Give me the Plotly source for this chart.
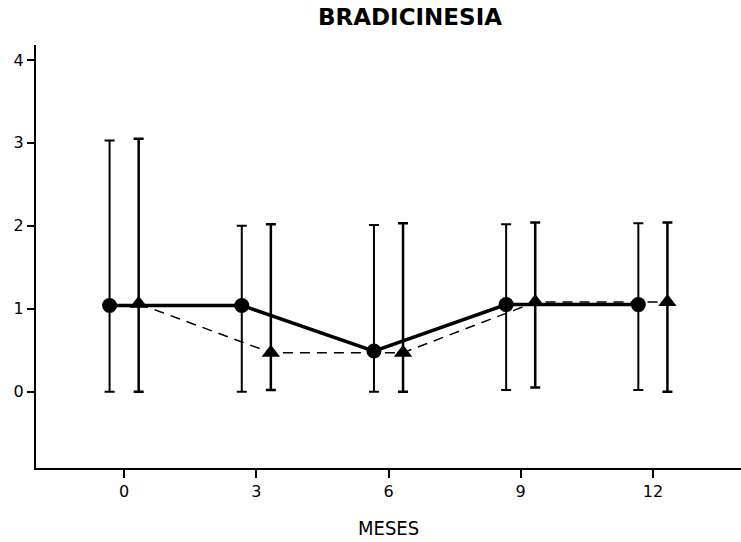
import plotly.graph_objects as go

months = [0, 3, 6, 9, 12]
tick_labels = ["0", "3", "6", "9", "12"]
y_ticks = [0, 1, 2, 3, 4]

circle_mean = [1.04, 1.04, 0.49, 1.05, 1.05]
circle_upper = [3.03, 2.0, 2.01, 2.02, 2.03]
circle_lower = [0.0, 0.0, 0.0, 0.02, 0.02]

tri_mean = [1.06, 0.47, 0.47, 1.08, 1.08]
tri_upper = [3.05, 2.02, 2.03, 2.04, 2.04]
tri_lower = [0.0, 0.02, 0.0, 0.05, 0.0]

OFF = 0.33
xc = [m - OFF for m in months]
xt = [m + OFF for m in months]

W, H = 741, 542
ML, MR, MT, MB = 36, 0, 45, 74

fig = go.Figure()

fig.add_trace(go.Scatter(
    x=xt, y=tri_mean, mode="lines+markers",
    line=dict(color="black", width=1.5, dash="10px,7px"),
    marker=dict(symbol="triangle-up", size=16, color="black"),
    error_y=dict(type="data", symmetric=False,
                 array=[u - m for u, m in zip(tri_upper, tri_mean)],
                 arrayminus=[m - l for m, l in zip(tri_mean, tri_lower)],
                 color="black", thickness=2.5, width=5),
    showlegend=False,
))

fig.add_trace(go.Scatter(
    x=xc, y=circle_mean, mode="lines+markers",
    line=dict(color="black", width=3.5),
    marker=dict(symbol="circle", size=15, color="black"),
    error_y=dict(type="data", symmetric=False,
                 array=[u - m for u, m in zip(circle_upper, circle_mean)],
                 arrayminus=[m - l for m, l in zip(circle_mean, circle_lower)],
                 color="black", thickness=2, width=5),
    showlegend=False,
))

plot_h = H - MT - MB
fig.update_layout(
    width=W, height=H,
    margin=dict(l=ML, r=MR, t=MT, b=MB),
    paper_bgcolor="white", plot_bgcolor="white",
    font=dict(family="DejaVu Sans", color="black", size=16),
    title=dict(text="<b>BRADICINESIA</b>", x=410 / W, xanchor="center",
               y=1 - 17 / H, yanchor="middle", xref="container", yref="container",
               font=dict(family="DejaVu Sans", size=23, color="black")),
    annotations=[dict(text="MESES", x=(388 - ML) / (W - ML - MR), y=(H - MB - 528) / plot_h,
                      xref="paper", yref="paper", xanchor="center", yanchor="middle",
                      showarrow=False,
                      font=dict(family="DejaVu Sans Condensed, DejaVu Sans", size=20, color="black"))],
)

fig.update_xaxes(
    range=[-2, 14], tickvals=months, ticktext=tick_labels,
    showline=True, linecolor="black", linewidth=2,
    ticks="outside", ticklen=8, tickwidth=2, tickcolor="black",
    showgrid=False, zeroline=False,
    tickfont=dict(size=16),
)
fig.update_yaxes(
    range=[-0.92, 4.18], tickvals=y_ticks, ticktext=[str(v) for v in y_ticks],
    showline=True, linecolor="black", linewidth=2,
    ticks="outside", ticklen=7, tickwidth=2, tickcolor="black",
    showgrid=False, zeroline=False,
    tickfont=dict(size=16),
)

fig.write_html("out.html")
